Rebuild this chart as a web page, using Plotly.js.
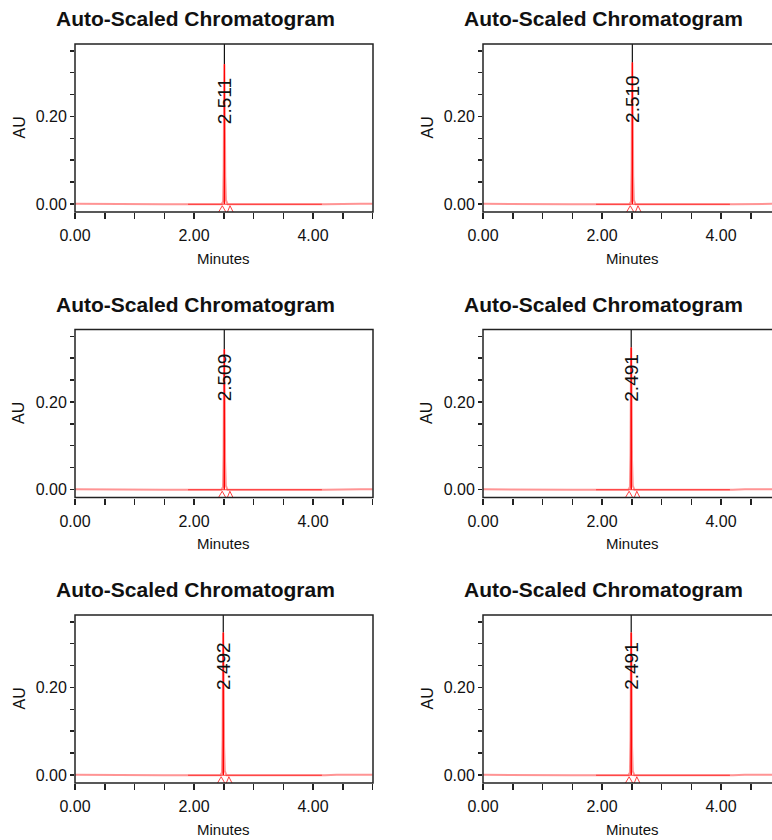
<!DOCTYPE html>
<html>
<head>
<meta charset="utf-8">
<script src="https://cdn.plot.ly/plotly-3.0.1.min.js"></script>
<style>html,body{margin:0;padding:0;background:#fff;}#chart{width:772px;height:840px;}</style>
</head>
<body>
<div id="chart"></div>
<script>
// ---- data ----
const chartTitle = 'Auto-Scaled Chromatogram';
const xAxisLabel = 'Minutes';
const yAxisLabel = 'AU';
const retentionTimes = [2.511, 2.510, 2.509, 2.491, 2.492, 2.491];
const peakLabels = ['2.511', '2.510', '2.509', '2.491', '2.492', '2.491'];
const peakHeights = [0.320, 0.324, 0.321, 0.325, 0.326, 0.326];
const peakLabelY = [0.236, 0.241, 0.257, 0.256, 0.250, 0.250];
// baseline signal (minutes, AU)
const baselineTimes = [0.00, 0.20, 0.25, 0.50, 1.00, 1.50, 1.90, 2.30, 2.70, 3.20, 3.80, 4.20, 4.40, 4.80, 5.00];
const baselineAU = [0.0005, 0.0005, 0.0010, 0.0003, 0.0000, -0.0005, -0.0008, -0.0008, -0.0009, -0.0009, -0.0008, -0.0004, 0.0003, 0.0006, 0.0006];
// peak profile: offset from retention time (min) and fraction of apex height
const peakOffsets = [-0.050, -0.022, -0.012, -0.005, 0.000, 0.006, 0.014, 0.026, 0.055];
const peakFractions = [0.000, 0.020, 0.250, 0.800, 1.000, 0.750, 0.200, 0.030, 0.000];
// integration marks (offset from retention time, AU)
const markOffsets = [-0.113, -0.035, 0.040, 0.094, 0.160];
const markAU = [-0.022, -0.004, -0.022, -0.004, -0.022];
const integrationStart = 1.90, integrationEnd = 4.15;
const xTickDtick = 2, xMinorDtick = 0.5;
const yTickDtick = 0.2, yMinorDtick = 0.05;

// ---- layout geometry ----
const W = 772, H = 840;
const colLeft = [75, 483];
const colWidth = 298;
const pxPerMin = 59.5;
const rowTop = [44, 329.5, 615];
const rowHeight = 168;
const yRange = [-0.0183, 0.3657];
const font = 'Liberation Sans, Arial, Helvetica, sans-serif';

const traces = [];
const layout = {
  width: W, height: H,
  margin: {l: 0, r: 0, t: 0, b: 0},
  paper_bgcolor: '#fff', plot_bgcolor: '#fff',
  showlegend: false,
  font: {family: font, color: '#111'},
  annotations: [], shapes: []
};

for (let i = 0; i < 6; i++) {
  const row = Math.floor(i / 2), col = i % 2;
  const n = i + 1;
  const xa = 'x' + (n === 1 ? '' : n), ya = 'y' + (n === 1 ? '' : n);
  const xkey = 'xaxis' + (n === 1 ? '' : n), ykey = 'yaxis' + (n === 1 ? '' : n);
  const left = colLeft[col];
  const right = Math.min(left + colWidth, W);
  const top = rowTop[row], bottom = rowTop[row] + rowHeight;
  const xMax = (right - left) / pxPerMin;

  layout[xkey] = {
    domain: [left / W, right / W], range: [0, xMax], anchor: ya,
    showgrid: false, zeroline: false, showline: false,
    ticks: 'outside', ticklen: 6, tickwidth: 1.5, tickcolor: '#222',
    ticklabelstandoff: 3,
    tick0: 0, dtick: xTickDtick, tickformat: '.2f',
    tickfont: {size: 16, family: font, color: '#111'},
    minor: {dtick: xMinorDtick, tick0: 0, ticks: 'outside', ticklen: 6, tickwidth: 1.5, tickcolor: '#222'},
    fixedrange: true
  };
  layout[ykey] = {
    domain: [1 - bottom / H, 1 - top / H], range: yRange, anchor: xa,
    showgrid: false, zeroline: false, showline: false,
    ticks: 'outside', ticklen: 4, tickwidth: 1.5, tickcolor: '#222',
    tick0: 0, dtick: yTickDtick, tickformat: '.2f',
    tickfont: {size: 16, family: font, color: '#111'},
    minor: {dtick: yMinorDtick, tick0: 0, ticks: 'outside', ticklen: 4, tickwidth: 1.5, tickcolor: '#222'},
    fixedrange: true
  };

  const rt = retentionTimes[i], h = peakHeights[i];
  // signal: baseline + peak
  const sx = [], sy = [];
  let inserted = false;
  for (let k = 0; k < baselineTimes.length; k++) {
    if (!inserted && baselineTimes[k] > rt) {
      for (let j = 0; j < peakOffsets.length; j++) {
        sx.push(rt + peakOffsets[j]);
        sy.push(h * peakFractions[j] - 0.0008);
      }
      inserted = true;
    }
    if (Math.abs(baselineTimes[k] - rt) > 0.06) { sx.push(baselineTimes[k]); sy.push(baselineAU[k]); }
  }
  traces.push({x: sx, y: sy, xaxis: xa, yaxis: ya, type: 'scatter', mode: 'lines',
    line: {color: 'rgba(255,60,60,0.55)', width: 2}, hoverinfo: 'skip'});
  // integration baseline
  traces.push({x: [integrationStart, integrationEnd], y: [-0.0006, -0.0006], xaxis: xa, yaxis: ya,
    type: 'scatter', mode: 'lines', line: {color: 'rgba(255,20,20,0.8)', width: 1}, hoverinfo: 'skip'});
  // peak core
  traces.push({x: [rt - 0.004, rt, rt + 0.004], y: [0, h, 0], xaxis: xa, yaxis: ya,
    type: 'scatter', mode: 'lines', line: {color: '#ff0000', width: 1}, hoverinfo: 'skip'});
  // retention time marker
  traces.push({x: [rt, rt], y: [h, yRange[1] + 0.01], xaxis: xa, yaxis: ya,
    type: 'scatter', mode: 'lines', line: {color: '#111', width: 1.2}, hoverinfo: 'skip'});
  // integration start/end marks
  traces.push({x: markOffsets.map(o => rt + o), y: markAU, xaxis: xa, yaxis: ya,
    type: 'scatter', mode: 'lines', line: {color: 'rgba(255,30,30,0.85)', width: 1}, hoverinfo: 'skip'});

  // frame
  layout.shapes.push({type: 'rect', xref: 'paper', yref: 'paper',
    x0: left / W, x1: (left + colWidth) / W, y0: 1 - bottom / H, y1: 1 - top / H,
    line: {color: '#222', width: 1.5}, layer: 'above'});

  // peak label
  layout.annotations.push({xref: xa, yref: ya, x: rt, y: peakLabelY[i], text: peakLabels[i],
    textangle: -90, showarrow: false, xanchor: 'center', yanchor: 'middle',
    font: {size: 19, family: font, color: '#111'}});
  // panel title
  layout.annotations.push({xref: 'paper', yref: 'paper', x: (left + 120) / W, y: 1 - (top - 25.5) / H,
    text: '<b>' + chartTitle + '</b>', showarrow: false, xanchor: 'center', yanchor: 'middle',
    font: {size: 21, family: font, color: '#111'}});
  // x axis label
  layout.annotations.push({xref: 'paper', yref: 'paper', x: (left + colWidth / 2) / W, y: 1 - (bottom + 46) / H,
    text: xAxisLabel, showarrow: false, xanchor: 'center', yanchor: 'middle',
    font: {size: 15, family: font, color: '#111'}});
  // y axis label
  layout.annotations.push({xref: 'paper', yref: 'paper', x: (left - 56.5) / W, y: 1 - (top + rowHeight / 2) / H,
    text: yAxisLabel, textangle: -90, showarrow: false, xanchor: 'center', yanchor: 'middle',
    font: {size: 16, family: font, color: '#111'}});
}

Plotly.newPlot('chart', traces, layout, {staticPlot: true, displayModeBar: false});
</script>
</body>
</html>
